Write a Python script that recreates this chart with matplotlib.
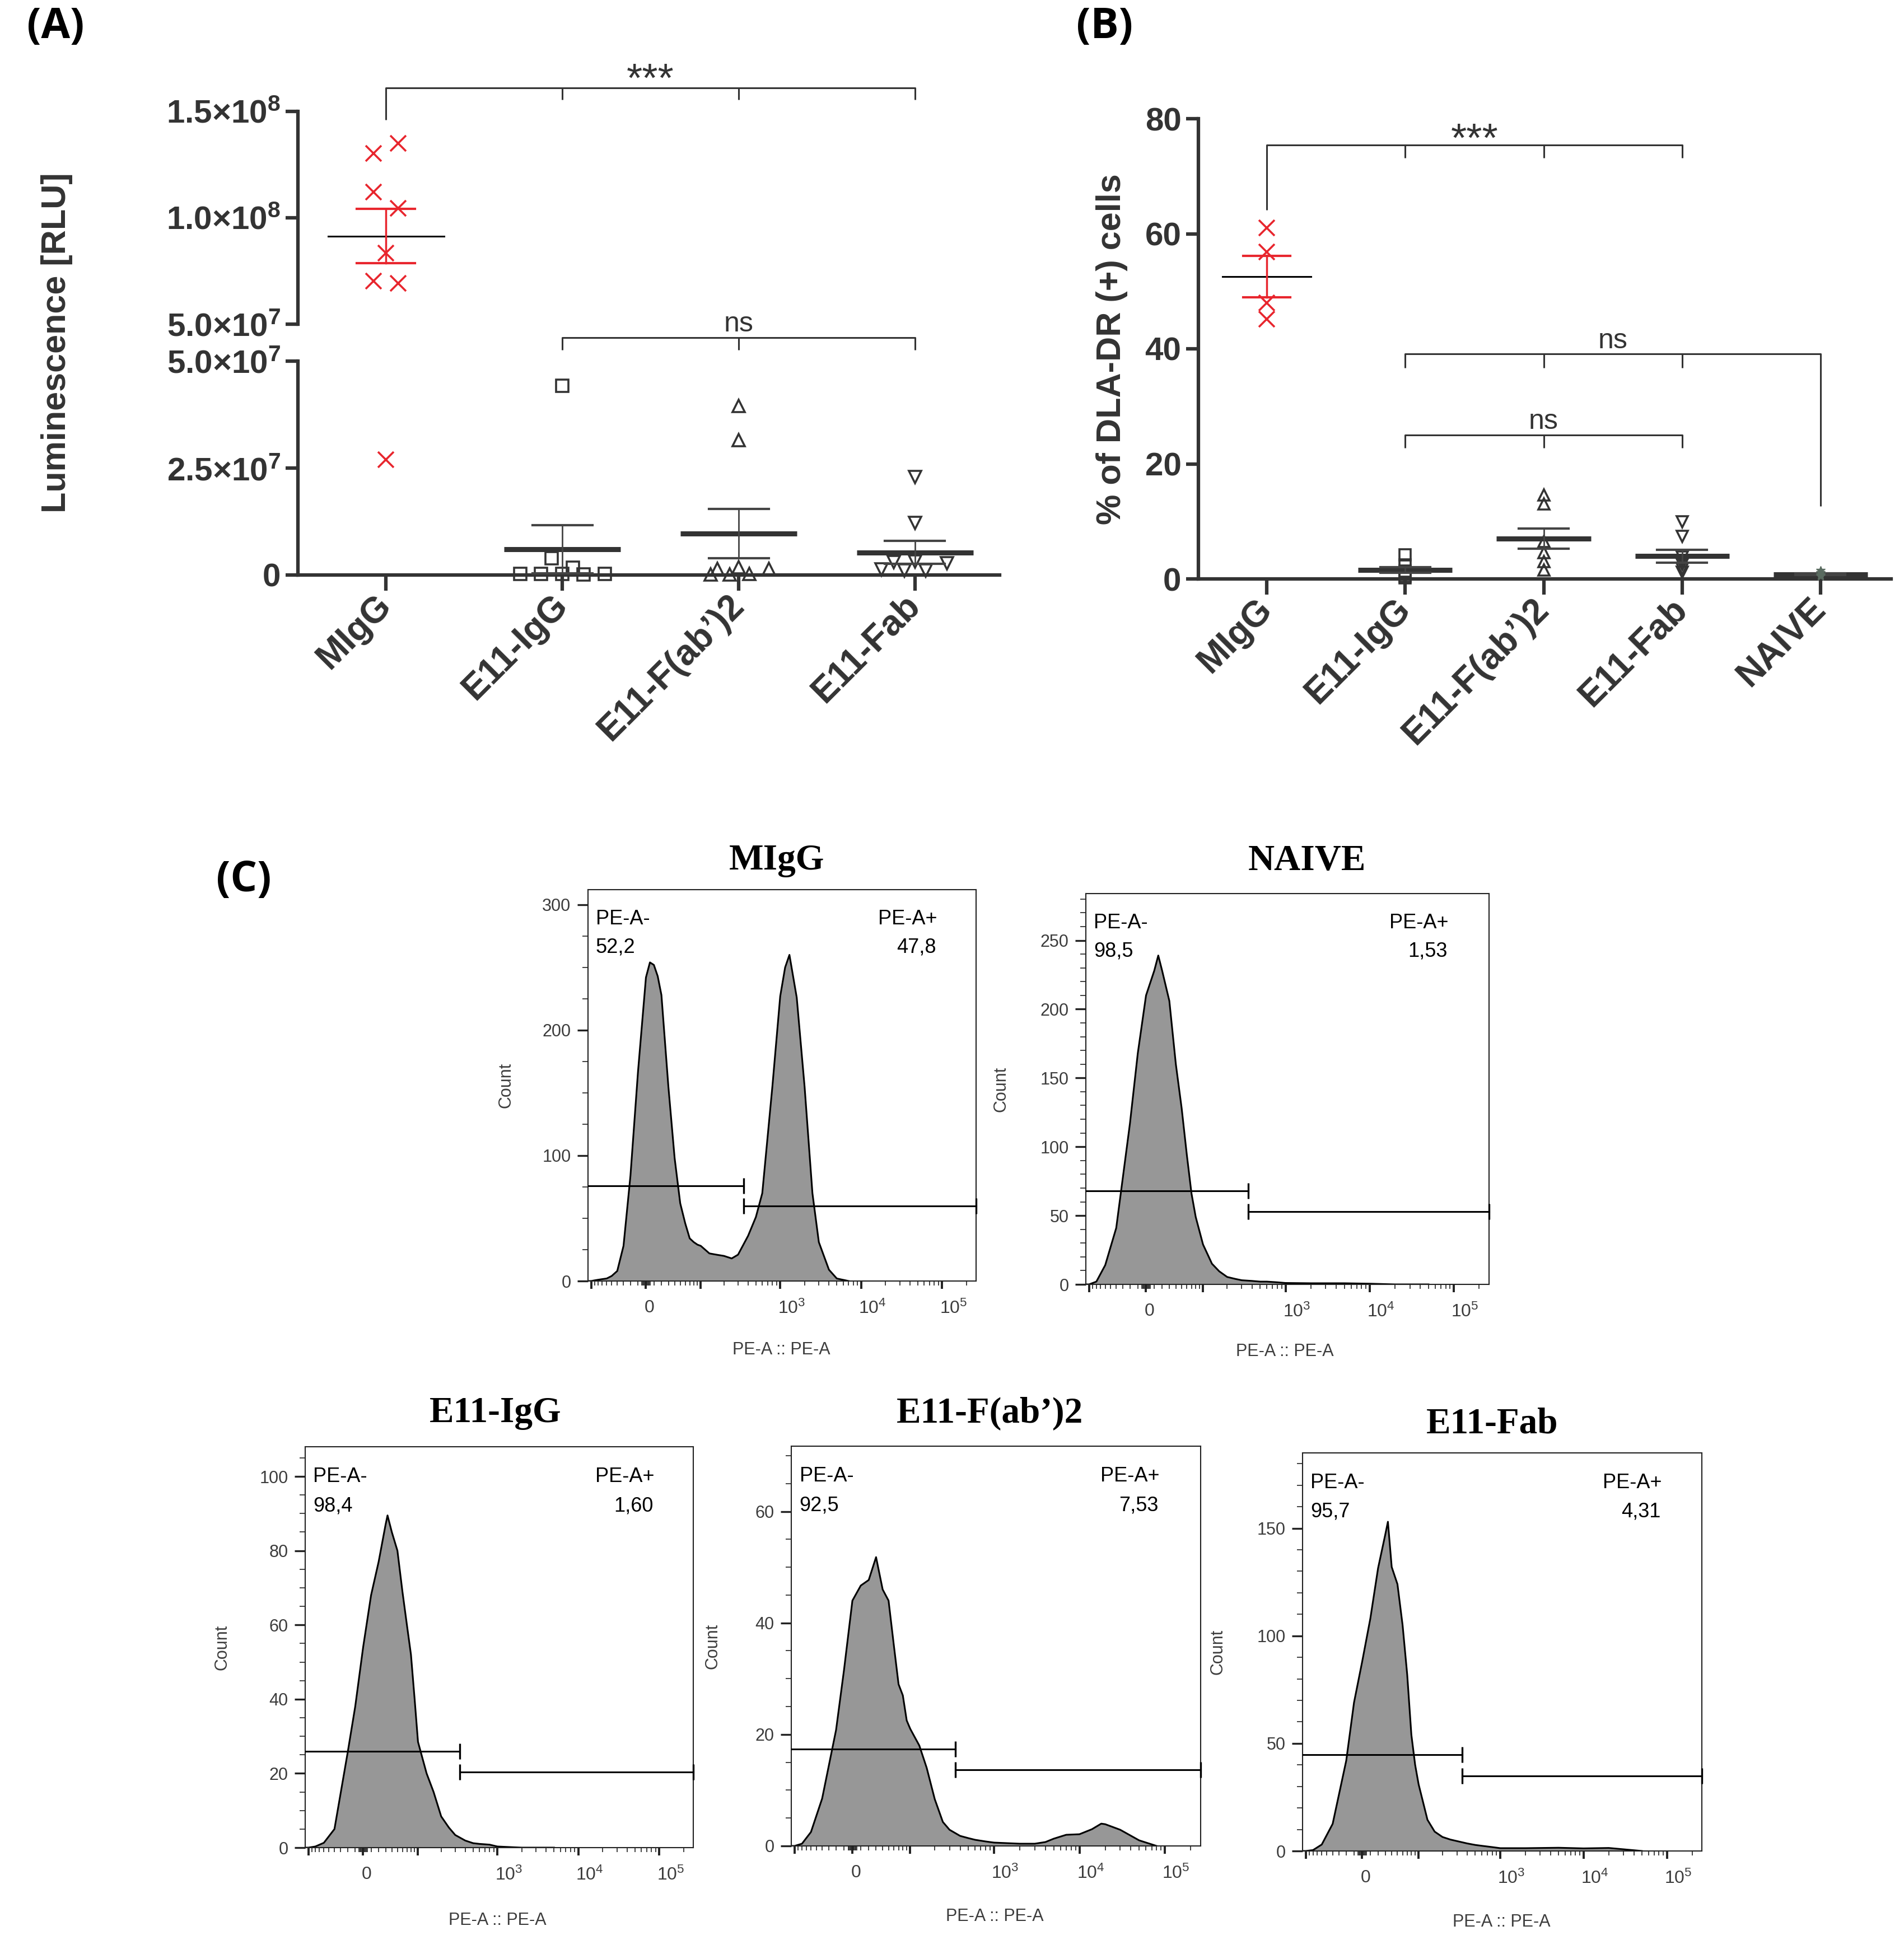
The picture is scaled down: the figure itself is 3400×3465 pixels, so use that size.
import numpy as np
import matplotlib
matplotlib.use("Agg")
import matplotlib.pyplot as plt
from matplotlib.ticker import FixedLocator, MultipleLocator, NullFormatter
from matplotlib.transforms import ScaledTranslation

plt.rcParams["font.family"] = ["Liberation Sans", "DejaVu Sans"]
plt.rcParams["mathtext.fontset"] = "custom"
plt.rcParams["mathtext.rm"] = "Liberation Sans"
plt.rcParams["mathtext.bf"] = "Liberation Sans:bold"
plt.rcParams["mathtext.it"] = "Liberation Sans:italic"
plt.rcParams["mathtext.sf"] = "Liberation Sans"

# ---------------- Panel A data (luminescence, RLU) ----------------
cats_A = ["MIgG", "E11-IgG", "E11-F(ab’)2", "E11-Fab"]
migg_A = [1.350e8, 1.302e8, 1.121e8, 1.045e8, 8.33e7, 7.02e7, 6.91e7, 2.70e7]
migg_A_jit = [0.07, -0.07, -0.07, 0.07, 0.0, -0.07, 0.07, 0.0]
igg_A = [4.42e7, 3.9e6, 1.7e6, 3e5, 2e5, 2e5, 1e5, 3e5]
igg_A_jit = [0.0, -0.06, 0.06, -0.24, -0.12, 0.0, 0.12, 0.24]
fab2_A = [3.95e7, 3.16e7, 1.8e6, 1.5e6, 1.4e6, 3e5, 1e5, 1e5]
fab2_A_jit = [0.0, 0.0, 0.0, 0.17, -0.12, 0.06, -0.16, -0.05]
fab_A = [2.29e7, 1.22e7, 3.2e6, 3.0e6, 2.8e6, 1.3e6, 1.1e6, 1.1e6]
fab_A_jit = [0.0, 0.0, 0.0, -0.12, 0.18, -0.19, -0.06, 0.06]
mean_A = [9.14e7, 6.0e6, 9.7e6, 5.3e6]
sem_A = [1.28e7, 5.6e6, 5.8e6, 2.7e6]
yticks_A_top = [5e7, 1e8, 1.5e8]
ylabels_A_top = [r"5.0×10$^{\mathbf{7}}$", r"1.0×10$^{\mathbf{8}}$", r"1.5×10$^{\mathbf{8}}$"]
yticks_A_bot = [0, 2.5e7, 5e7]
ylabels_A_bot = ["0", r"2.5×10$^{\mathbf{7}}$", r"5.0×10$^{\mathbf{7}}$"]

# ---------------- Panel B data (% DLA-DR+ cells) ----------------
cats_B = ["MIgG", "E11-IgG", "E11-F(ab’)2", "E11-Fab", "NAIVE"]
migg_B = [61.0, 56.8, 48.0, 45.2]
igg_B = [4.2, 2.4, 1.4, 0.9, 0.5, 0.2]
fab2_B = [14.6, 13.0, 6.5, 4.6, 3.0, 1.6]
fab_B = [9.9, 7.4, 3.8, 3.2, 2.5, 1.8, 1.2]
naive_B = [1.5, 1.1, 0.7, 0.5]
mean_B = [52.6, 1.55, 7.0, 3.95, 0.8]
sem_B = [3.6, 0.45, 1.75, 1.15, 0.15]
yticks_B = [0, 20, 40, 60, 80]

# ---------------- Panel C data (flow histograms, PE-A vs count) ----------------
hist_names = ["MIgG", "NAIVE", "E11-IgG", "E11-F(ab’)2", "E11-Fab"]
pe_migg = [-110, -100, -90, -80, -70, -60, -50, -40, -30, -20, -10, 0, 5, 10, 15, 20, 30, 40, 50, 60,
           70, 80, 90, 100, 130, 160, 200, 250, 300, 400, 500, 600, 800, 1000, 1150, 1300, 1600, 2000,
           2500, 3000, 4000, 5000, 7000]
cnt_migg = [0, 0, 0.5, 1, 1.5, 2, 4, 8, 28, 84, 167, 242, 254, 252, 243, 228, 155, 98, 62, 46,
            34, 31, 29, 28, 22, 21, 20, 18, 21, 36, 51, 70, 155, 227, 250, 260, 226, 155,
            70, 31, 9, 2, 0]
pe_naive = [-110, -100, -80, -60, -40, -20, -10, 0, 10, 15, 20, 30, 40, 50, 60, 70, 80, 100, 130, 160,
            200, 250, 300, 400, 500, 600, 800, 1000, 2000, 5000, 10000, 20000, 50000]
cnt_naive = [0, 0, 2, 14, 41, 117, 168, 210, 228, 239, 228, 206, 160, 128, 94, 66, 49, 29, 15, 9.5,
             5.4, 4, 3, 2.5, 2, 2, 1.5, 1, 0.8, 0.8, 0.5, 0, 0]
pe_igg = [-110, -100, -80, -60, -40, -20, -10, 0, 10, 20, 30, 33, 40, 50, 60, 70, 80, 90, 100, 130,
          160, 200, 250, 300, 400, 500, 600, 800, 1000, 2000, 5000]
cnt_igg = [0, 0, 0.3, 1.3, 5, 25.6, 38, 54, 68, 77, 87, 89.5, 85, 80, 69, 60, 52, 40, 28.5, 20,
           15, 8.4, 5.4, 3.4, 1.9, 1.2, 1, 0.8, 0.3, 0, 0]
pe_fab2 = [-110, -100, -80, -60, -40, -20, -10, 0, 10, 20, 30, 40, 50, 60, 70, 80, 90, 100, 130, 160,
           200, 250, 300, 400, 500, 600, 800, 1000, 2000, 3000, 4000, 5000, 7000, 10000, 14000, 18000,
           20000, 30000, 50000, 80000]
cnt_fab2 = [0, 0, 0.4, 2.5, 8.5, 20.8, 31.6, 44, 46.7, 47.7, 51.8, 46, 44, 36, 29, 27, 22.5, 21, 18, 14,
            8.4, 4.3, 2.9, 1.8, 1.4, 1.1, 0.8, 0.6, 0.4, 0.4, 0.7, 1.3, 2.0, 2.1, 3.0, 4.0,
            3.9, 2.9, 1.0, 0]
pe_fab = [-110, -100, -80, -60, -40, -20, -10, 0, 10, 20, 30, 34, 40, 50, 60, 70, 80, 90, 100, 130,
          160, 200, 250, 300, 400, 500, 600, 800, 1000, 2000, 5000, 10000, 20000, 50000]
cnt_fab = [0, 0, 0.4, 3, 12.6, 42, 69, 88, 108, 131.5, 147, 153, 132, 124, 105, 82, 54, 40, 31, 14.5,
           9, 6.5, 5.3, 4.6, 3.5, 2.8, 2.4, 1.8, 1.3, 1.3, 1.5, 1.2, 1.4, 0]
hist_pe = [pe_migg, pe_naive, pe_igg, pe_fab2, pe_fab]
hist_cnt = [cnt_migg, cnt_naive, cnt_igg, cnt_fab2, cnt_fab]
hist_ymax = [312, 284, 108, 71.7, 185]
hist_ymajor = [[0, 100, 200, 300], [0, 50, 100, 150, 200, 250], [0, 20, 40, 60, 80, 100],
               [0, 20, 40, 60], [0, 50, 100, 150]]
hist_yminor = [25, 10, 5, 5, 10]
gate_split = [352, 357, 342, 350, 345]
gate_neg_y = [75.8, 67.9, 25.9, 17.4, 44.7]
gate_pos_y = [59.6, 53.0, 20.4, 13.7, 34.8]
pct_neg = ["52,2", "98,5", "98,4", "92,5", "95,7"]
pct_pos = ["47,8", "1,53", "1,60", "7,53", "4,31"]
pe_xticklabels = ["", "0", "", r"$\mathrm{10}^{\mathrm{3}}$", r"$\mathrm{10}^{\mathrm{4}}$",
                  r"$\mathrm{10}^{\mathrm{5}}$"]

# ---------------- layout ----------------
W_PX, H_PX = 3400, 3465
DARK = "#333333"
RED = "#e8262e"
GREY_TXT = "#3c3c3c"

fig = plt.figure(figsize=(W_PX / 100, H_PX / 100), dpi=100)


def rect(L, T, R, B):
    return [L / W_PX, 1 - B / H_PX, (R - L) / W_PX, (B - T) / H_PX]


def style_prism_axis(ax, ylab_size=42):
    for sp in ("top", "right"):
        ax.spines[sp].set_visible(False)
    for sp in ("left", "bottom"):
        ax.spines[sp].set_linewidth(4.5)
        ax.spines[sp].set_color(DARK)
    ax.tick_params(axis="y", direction="out", length=16, width=4.5, color=DARK,
                   labelsize=ylab_size, labelcolor=DARK, pad=6)
    ax.tick_params(axis="x", direction="out", length=20, width=4.5, color=DARK,
                   labelsize=46, labelcolor=DARK, pad=12)


# ================= Panel A =================
axA_top = fig.add_axes(rect(532, 199, 1785, 579))
axA_bot = fig.add_axes(rect(532, 645, 1785, 1027))
for ax in (axA_top, axA_bot):
    style_prism_axis(ax)
    ax.set_xlim(-0.5, 3.48)
axA_top.spines["bottom"].set_visible(False)
axA_top.tick_params(axis="x", bottom=False, labelbottom=False)
axA_top.set_ylim(5e7, 1.5e8)
axA_bot.set_ylim(0, 5e7)
axA_top.set_yticks(yticks_A_top)
axA_top.set_yticklabels(ylabels_A_top, fontweight="bold")
axA_bot.set_yticks(yticks_A_bot)
axA_bot.set_yticklabels(ylabels_A_bot, fontweight="bold")
axA_bot.set_xticks(range(len(cats_A)))
axA_bot.set_xticklabels(cats_A, rotation=45, ha="right", va="center", rotation_mode="anchor",
                        fontweight="bold")

series_A = [(migg_A, migg_A_jit, "x", RED), (igg_A, igg_A_jit, "s", DARK),
            (fab2_A, fab2_A_jit, "^", DARK), (fab_A, fab_A_jit, "v", DARK)]
for i, (vals, jit, mk, col) in enumerate(series_A):
    for ax, lo, hi in ((axA_top, 5e7, np.inf), (axA_bot, -np.inf, 5e7)):
        sel = [(i + j, v) for v, j in zip(vals, jit) if lo <= v < hi]
        if not sel:
            continue
        xs, ys = zip(*sel)
        if mk == "x":
            ax.plot(xs, ys, ls="none", marker="x", ms=20, mew=2.6, color=col, clip_on=False, zorder=4)
        else:
            ax.plot(xs, ys, ls="none", marker=mk, ms=16, mew=2.6, mfc="none", mec=col,
                    clip_on=False, zorder=4)

for i in range(len(cats_A)):
    m, s = mean_A[i], sem_A[i]
    ax = axA_top if m >= 5e7 else axA_bot
    if i == 0:
        ax.plot([i - 0.33, i + 0.33], [m, m], color="k", lw=2.2, zorder=5)
        ax.plot([i, i], [m - s, m + s], color=RED, lw=2.5, zorder=5)
        for y in (m - s, m + s):
            ax.plot([i - 0.165, i + 0.165], [y, y], color=RED, lw=3, zorder=5)
    else:
        ax.plot([i - 0.33, i + 0.33], [m, m], color=DARK, lw=6.5, solid_capstyle="butt", zorder=5)
        ax.plot([i, i], [max(m - s, 0), m + s], color="#444444", lw=2, zorder=5, clip_on=False)
        for y in (m - s, m + s):
            ax.plot([i - 0.17, i + 0.17], [y, y], color="#444444", lw=3, zorder=5, clip_on=False)

# brackets panel A
bk = dict(color=DARK, lw=2.2, clip_on=False, solid_capstyle="butt")
axA_top.plot([0, 0, 3, 3], [1.46e8, 1.61e8, 1.61e8, 1.556e8], **bk)
for xb in (1, 2):
    axA_top.plot([xb, xb], [1.61e8, 1.556e8], **bk)
axA_top.text(1.5, 1.592e8, "***", ha="center", va="baseline", fontsize=52, color=DARK)
axA_bot.plot([1, 1, 3, 3], [5.26e7, 5.55e7, 5.55e7, 5.26e7], **bk)
axA_bot.plot([2, 2], [5.55e7, 5.26e7], **bk)
axA_bot.text(2, 5.69e7, "ns", ha="center", va="baseline", fontsize=36, color=DARK)

fig.text(102 / W_PX, 1 - 612 / H_PX, "Luminescence [RLU]", rotation=90, ha="center", va="center",
         fontsize=44, fontweight="bold", color=DARK)

# ================= Panel B =================
axB = fig.add_axes(rect(2140, 212, 3377, 1034))
style_prism_axis(axB)
axB.set_xlim(-0.494, 4.51)
axB.set_ylim(0, 80)
axB.set_yticks(yticks_B)
axB.set_yticklabels([str(v) for v in yticks_B], fontweight="bold")
axB.set_xticks(range(len(cats_B)))
axB.set_xticklabels(cats_B, rotation=45, ha="right", va="center", rotation_mode="anchor",
                    fontweight="bold")
series_B = [(migg_B, "x", RED), (igg_B, "s", DARK), (fab2_B, "^", DARK), (fab_B, "v", DARK),
            (naive_B, "*", "#5a6b60")]
for i, (vals, mk, col) in enumerate(series_B):
    xs = [i] * len(vals)
    if mk == "x":
        axB.plot(xs, vals, ls="none", marker="x", ms=20, mew=2.6, color=col, clip_on=False, zorder=4)
    elif mk == "*":
        axB.plot(xs, vals, ls="none", marker="*", ms=12, mew=1.0, color=col, clip_on=False, zorder=6)
    else:
        axB.plot(xs, vals, ls="none", marker=mk, ms=15, mew=2.6, mfc="none", mec=col,
                 clip_on=False, zorder=4)
for i in range(len(cats_B)):
    m, s = mean_B[i], sem_B[i]
    if i == 0:
        axB.plot([i - 0.32, i + 0.32], [m, m], color="k", lw=2.2, zorder=5)
        axB.plot([i, i], [m - s, m + s], color=RED, lw=2.5, zorder=5)
        for y in (m - s, m + s):
            axB.plot([i - 0.17, i + 0.17], [y, y], color=RED, lw=3, zorder=5)
    else:
        axB.plot([i - 0.34, i + 0.34], [m, m], color=DARK, lw=6.5, solid_capstyle="butt", zorder=5,
                 clip_on=False)
        axB.plot([i, i], [m - s, m + s], color="#444444", lw=2, zorder=5, clip_on=False)
        for y in (m - s, m + s):
            axB.plot([i - 0.18, i + 0.18], [y, y], color="#444444", lw=3, zorder=5, clip_on=False)

axB.plot([0, 0, 3, 3], [64.1, 75.4, 75.4, 73.2], **bk)
for xb in (1, 2):
    axB.plot([xb, xb], [75.4, 73.2], **bk)
axB.text(1.5, 74.3, "***", ha="center", va="baseline", fontsize=52, color=DARK)
axB.plot([1, 1, 4, 4], [36.7, 39.1, 39.1, 12.7], **bk)
for xb in (2, 3):
    axB.plot([xb, xb], [39.1, 36.7], **bk)
axB.text(2.5, 40.1, "ns", ha="center", va="baseline", fontsize=36, color=DARK)
axB.plot([1, 1, 3, 3], [22.8, 25.0, 25.0, 22.8], **bk)
axB.plot([2, 2], [25.0, 22.8], **bk)
axB.text(2, 26.1, "ns", ha="center", va="baseline", fontsize=36, color=DARK)

fig.text(1985 / W_PX, 1 - 624 / H_PX, "% of DLA-DR (+) cells", rotation=90, ha="center",
         va="center", fontsize=44, fontweight="bold", color=DARK)

# ================= Panel C =================
W_LOGICLE = 44.0


def fwd(x):
    return np.arcsinh(np.asarray(x, dtype=float) / W_LOGICLE) / np.log(10)


def inv(u):
    return W_LOGICLE * np.sinh(np.asarray(u, dtype=float) * np.log(10))


hist_rects = [(1050, 1589, 1743, 2288), (1939, 1596, 2659, 2294), (545, 2584, 1238, 3300),
              (1413, 2583, 2144, 3297), (2326, 2595, 3039, 3306)]
title_gap = [52, 58, 60, 58, 52]
title_xfrac = [0.487, 0.549, 0.49, 0.485, 0.475]
xlabel_pos = [(0.498, -0.154), (0.494, -0.150), (0.496, -0.160), (0.497, -0.156), (0.498, -0.158)]
ylabel_pos = [-0.190, -0.190, -0.192, -0.171, -0.191]

x_major = [-100, 0, 100, 1e3, 1e4, 1e5]
x_minor = (list(range(-90, 0, 10)) + list(range(-5, 6)) + list(range(10, 100, 10)) +
           list(range(200, 1000, 100)) + list(range(2000, 10000, 1000)) +
           list(range(20000, 100000, 10000)) + [2e5])

for i, r in enumerate(hist_rects):
    ax = fig.add_axes(rect(*r))
    ax.set_xscale("function", functions=(fwd, inv))
    ax.fill_between(hist_pe[i], hist_cnt[i], 0, color="#979797", lw=0, zorder=1)
    ax.plot(hist_pe[i], hist_cnt[i], color="k", lw=2.2, zorder=2)
    x0, x1 = -110, 262144
    ax.set_xlim(x0, x1)
    ax.set_ylim(0, hist_ymax[i])
    # gates
    ax.plot([x0, gate_split[i]], [gate_neg_y[i]] * 2, color="k", lw=2.2, zorder=3)
    ax.plot([gate_split[i], x1], [gate_pos_y[i]] * 2, color="k", lw=2.2, zorder=3, clip_on=False)
    ax.plot([gate_split[i]], [gate_neg_y[i]], marker="|", ms=20, mew=2.4, color="k", zorder=3)
    ax.plot([gate_split[i], x1], [gate_pos_y[i]] * 2, ls="none", marker="|", ms=20, mew=2.4,
            color="k", zorder=3, clip_on=False)
    # texts
    ax.text(0.02, 0.925, "PE-A-", transform=ax.transAxes, ha="left", va="center", fontsize=26)
    ax.text(0.02, 0.852, pct_neg[i], transform=ax.transAxes, ha="left", va="center", fontsize=26)
    ax.text(0.90, 0.925, "PE-A+", transform=ax.transAxes, ha="right", va="center", fontsize=26)
    ax.text(0.897, 0.852, pct_pos[i], transform=ax.transAxes, ha="right", va="center", fontsize=26)
    # spines & ticks
    for sp in ax.spines.values():
        sp.set_linewidth(1.5)
        sp.set_color("#222222")
    ax.yaxis.set_major_locator(FixedLocator(hist_ymajor[i]))
    ax.yaxis.set_minor_locator(MultipleLocator(hist_yminor[i]))
    ax.set_yticklabels([str(v) for v in hist_ymajor[i]])
    ax.xaxis.set_major_locator(FixedLocator(x_major))
    ax.xaxis.set_minor_locator(FixedLocator(x_minor))
    ax.xaxis.set_minor_formatter(NullFormatter())
    ax.set_xticklabels(pe_xticklabels)
    ax.tick_params(axis="y", which="major", direction="out", length=14, width=2.4, color="#222222",
                   labelsize=22, labelcolor=GREY_TXT, pad=8)
    ax.tick_params(axis="y", which="minor", direction="out", length=7, width=1.2, color="#222222")
    ax.tick_params(axis="x", which="major", direction="out", length=10, width=2.8, color="#222222",
                   labelsize=23, labelcolor=GREY_TXT, pad=14)
    ax.tick_params(axis="x", which="minor", direction="out", length=6, width=1.2, color="#222222")
    for k, lbl in enumerate(ax.get_xticklabels()):
        dx = 0.06 if k == 1 else 0.2
        lbl.set_transform(lbl.get_transform() + ScaledTranslation(dx, 0, fig.dpi_scale_trans))
    ax.set_xlabel("PE-A :: PE-A", fontsize=22, color=GREY_TXT)
    ax.set_ylabel("Count", fontsize=22, color=GREY_TXT)
    ax.xaxis.set_label_coords(*xlabel_pos[i])
    ax.yaxis.set_label_coords(ylabel_pos[i], 0.5)
    h = r[3] - r[1]
    ax.text(title_xfrac[i], 1 + title_gap[i] / h, hist_names[i], transform=ax.transAxes, ha="center",
            va="center", fontsize=47, fontweight="bold", family="Liberation Serif", color="k")

# panel letters
for lab, (px, py) in (("(A)", (99, 49)), ("(B)", (1973, 49)), ("(C)", (435, 1573))):
    fig.text(px / W_PX, 1 - py / H_PX, lab, ha="center", va="center", fontsize=54,
             fontweight="bold", family=["Open Sans", "DejaVu Sans"], color="k")

fig.savefig("out.png", dpi=100, facecolor="white")
